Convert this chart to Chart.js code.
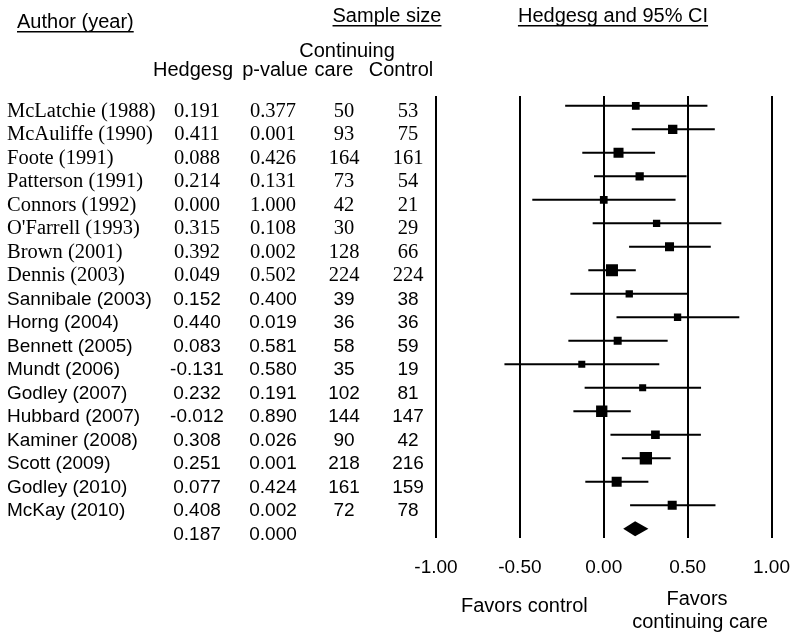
<!DOCTYPE html>
<html>
<head>
<meta charset="utf-8">
<script src="https://cdn.jsdelivr.net/npm/chart.js@4.4.1/dist/chart.umd.min.js"></script>
<style>
  html, body { margin: 0; padding: 0; background: #fff; }
  #wrap { width: 800px; height: 641px; }
</style>
</head>
<body>
<div id="wrap"><canvas id="forestChart"></canvas></div>
<script>
// Studies (top to bottom)
const studies = [
    'McLatchie (1988)', 'McAuliffe (1990)', 'Foote (1991)', 'Patterson (1991)',
    'Connors (1992)', "O'Farrell (1993)", 'Brown (2001)', 'Dennis (2003)',
    'Sannibale (2003)', 'Horng (2004)', 'Bennett (2005)', 'Mundt (2006)',
    'Godley (2007)', 'Hubbard (2007)', 'Kaminer (2008)', 'Scott (2009)',
    'Godley (2010)', 'McKay (2010)'
];
const hedgesG = [0.191, 0.411, 0.088, 0.214, 0.000, 0.315, 0.392, 0.049, 0.152,
    0.440, 0.083, -0.131, 0.232, -0.012, 0.308, 0.251, 0.077, 0.408];
const pValues = [0.377, 0.001, 0.426, 0.131, 1.000, 0.108, 0.002, 0.502, 0.400,
    0.019, 0.581, 0.580, 0.191, 0.890, 0.026, 0.001, 0.424, 0.002];
const nCare = [50, 93, 164, 73, 42, 30, 128, 224, 39, 36, 58, 35, 102, 144, 90, 218, 161, 72];
const nControl = [53, 75, 161, 54, 21, 29, 66, 224, 38, 36, 59, 19, 81, 147, 42, 216, 159, 78];
// 95% CI
const ciLower = [-0.23, 0.167, -0.128, -0.058, -0.426, -0.066, 0.151, -0.092, -0.199,
    0.076, -0.211, -0.592, -0.114, -0.181, 0.040, 0.108, -0.110, 0.157];
const ciUpper = [0.618, 0.662, 0.306, 0.494, 0.428, 0.701, 0.638, 0.191, 0.501,
    0.808, 0.381, 0.331, 0.580, 0.161, 0.579, 0.399, 0.266, 0.666];
// relative weights (%)
const weights = [4.1, 6.0, 6.9, 4.7, 4.1, 3.7, 5.6, 9.9, 3.7, 3.7, 4.4, 3.4, 3.4, 8.8, 5.2, 10.4, 6.9, 5.6];
// pooled effect
const summaryG = 0.187;
const summaryP = 0.000;
const summaryLower = 0.116;
const summaryUpper = 0.266;
const xTicks = [-1, -0.5, 0, 0.5, 1];

const SANS = '"Liberation Sans", Arial, sans-serif';
const SERIF = '"Liberation Serif", "Times New Roman", serif';
const maxWeight = Math.max(...weights);

// Dessine le tableau de gauche, les titres et le losange
const tablePlugin = {
    id: 'forestTable',
    afterDatasetsDraw(chart) {
        const ctx = chart.ctx;
        const x = chart.scales.x;
        const y = chart.scales.y;
        ctx.save();
        ctx.fillStyle = '#000';
        ctx.textBaseline = 'alphabetic';

        const underlined = (text, px, py, align) => {
            ctx.textAlign = align;
            ctx.fillText(text, px, py);
            const w = ctx.measureText(text).width;
            const left = align === 'left' ? px : px - w / 2;
            ctx.fillRect(left, py + 3, w, 1.5);
        };

        ctx.font = '20px ' + SANS;
        underlined('Author (year)', 17, 28, 'left');
        underlined('Sample size', 387, 22, 'center');
        underlined('Hedgesg and 95% CI', 613, 22, 'center');
        ctx.textAlign = 'center';
        ctx.fillText('Continuing', 347, 57);
        ctx.fillText('Hedgesg', 193, 76);
        ctx.fillText('p-value', 275, 76);
        ctx.fillText('care', 334, 76);
        ctx.fillText('Control', 401, 76);

        studies.forEach((name, i) => {
            const py = y.getPixelForValue(i) + 11;
            ctx.font = i < 8 ? '20.5px ' + SERIF : '19px ' + SANS;
            ctx.textAlign = 'left';
            ctx.fillText(name, 7, py);
            ctx.textAlign = 'center';
            ctx.fillText(hedgesG[i].toFixed(3), 197, py);
            ctx.fillText(pValues[i].toFixed(3), 273, py);
            ctx.fillText(String(nCare[i]), 344, py);
            ctx.fillText(String(nControl[i]), 408, py);
        });

        const sy = y.getPixelForValue(studies.length);
        ctx.font = '19px ' + SANS;
        ctx.fillText(summaryG.toFixed(3), 197, sy + 11);
        ctx.fillText(summaryP.toFixed(3), 273, sy + 11);

        // losange de l'effet global
        ctx.beginPath();
        ctx.moveTo(x.getPixelForValue(summaryLower), sy);
        ctx.lineTo(x.getPixelForValue(summaryG), sy - 7.5);
        ctx.lineTo(x.getPixelForValue(summaryUpper), sy);
        ctx.lineTo(x.getPixelForValue(summaryG), sy + 7.5);
        ctx.closePath();
        ctx.fill();

        ctx.font = '20px ' + SANS;
        ctx.textAlign = 'left';
        ctx.fillText('Favors control', 461, 612);
        ctx.textAlign = 'center';
        ctx.fillText('Favors', 697, 605);
        ctx.fillText('continuing care', 700, 628);
        ctx.restore();
    }
};

const datasets = [{
    type: 'scatter',
    data: hedgesG.map((g, i) => ({ x: g, y: i })),
    pointStyle: 'rect',
    // carré : côté proportionnel à la racine du poids
    pointRadius: weights.map(w => 12.3 * Math.sqrt(w / maxWeight) / Math.SQRT2),
    pointBackgroundColor: '#000',
    pointBorderWidth: 0
}];
studies.forEach((s, i) => {
    datasets.push({
        type: 'line',
        data: [{ x: ciLower[i], y: i }, { x: ciUpper[i], y: i }],
        borderColor: '#000',
        borderWidth: 2,
        pointRadius: 0
    });
});

new Chart(document.getElementById('forestChart'), {
    type: 'scatter',
    data: { datasets },
    options: {
        responsive: true,
        maintainAspectRatio: false,
        animation: false,
        layout: { padding: { left: 436, right: 27, top: 96, bottom: 43 } },
        plugins: { legend: { display: false }, tooltip: { enabled: false } },
        scales: {
            x: {
                type: 'linear',
                min: -1,
                max: 1,
                afterBuildTicks: scale => { scale.ticks = xTicks.map(v => ({ value: v })); },
                ticks: {
                    callback: v => v.toFixed(2),
                    color: '#000',
                    padding: 10,
                    maxRotation: 0,
                    font: { family: SANS, size: 19, lineHeight: 2.1 }
                },
                grid: { color: '#000', lineWidth: 2, drawTicks: false },
                border: { display: false }
            },
            y: {
                type: 'linear',
                min: -0.42,
                max: 18.4,
                reverse: true,
                display: false
            }
        }
    },
    plugins: [tablePlugin]
});
</script>
</body>
</html>
